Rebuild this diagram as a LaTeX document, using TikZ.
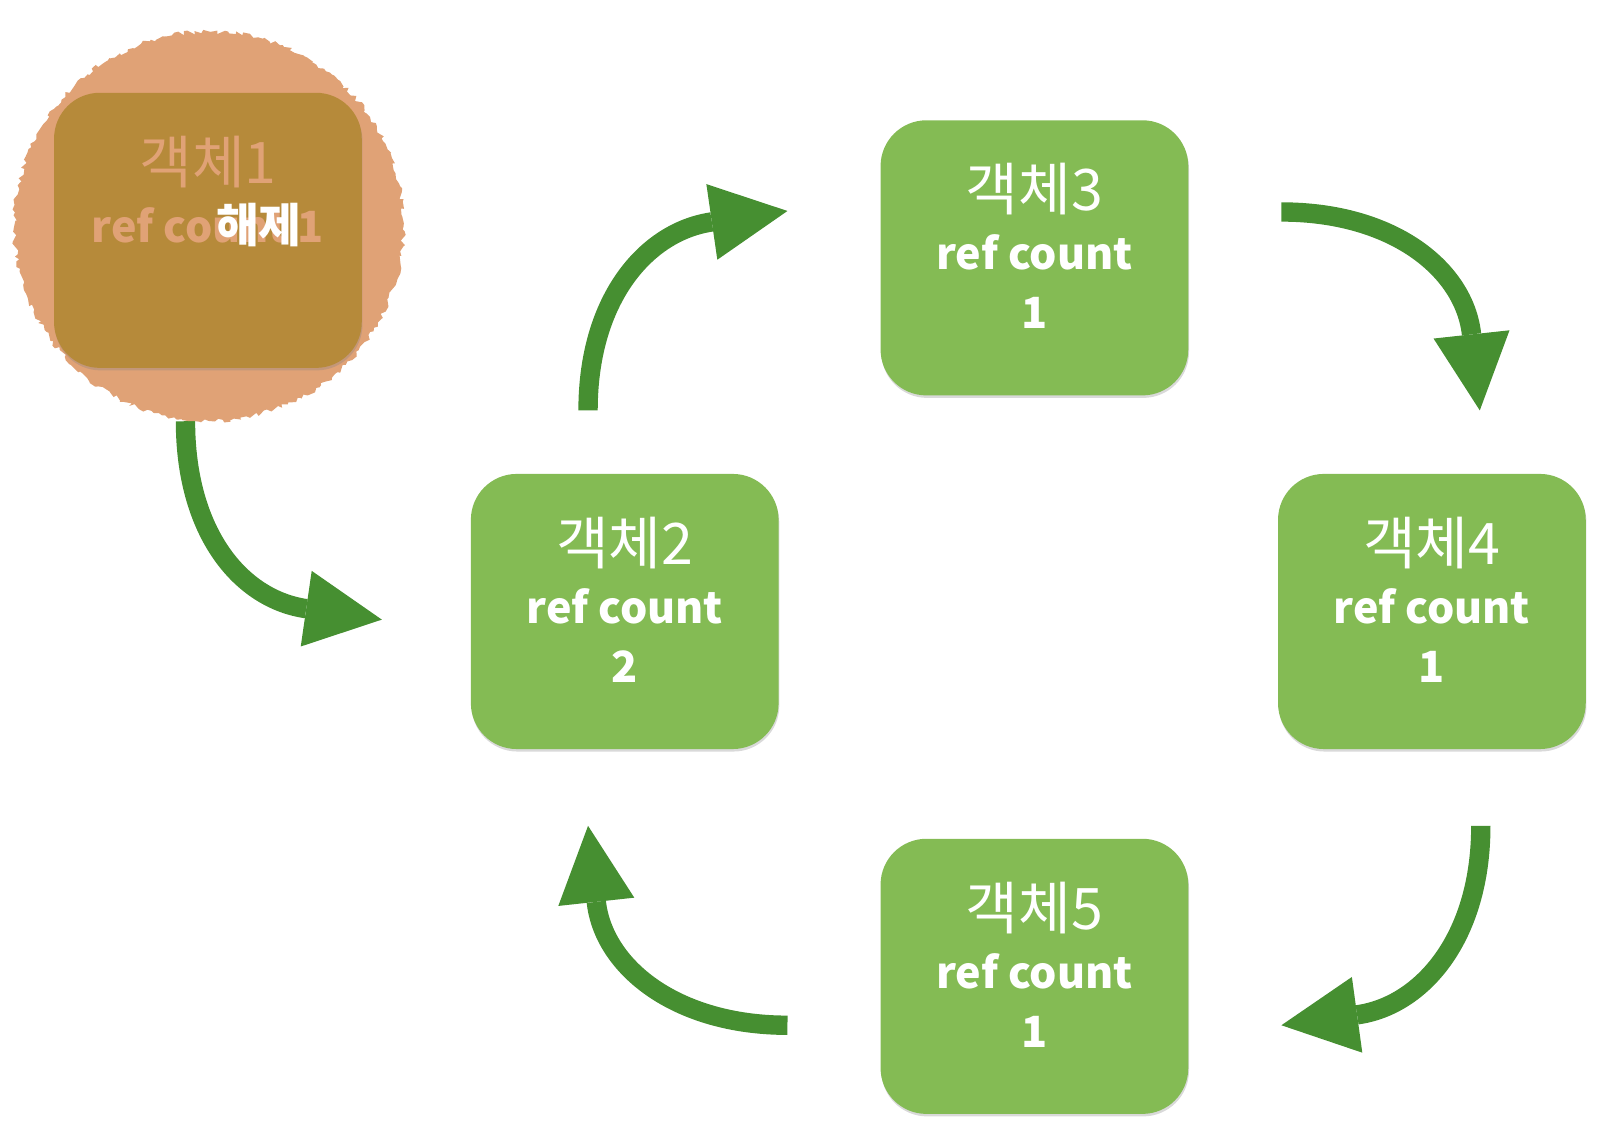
\documentclass[tikz,border=0pt]{standalone}
\usepackage{fontspec}
\setmainfont{Noto Sans CJK KR}
\usetikzlibrary{arrows.meta,calc,shadows,decorations.pathmorphing}
\definecolor{boxgreen}{HTML}{84BB54}
\definecolor{arrowgreen}{HTML}{468F31}
\definecolor{freedorange}{HTML}{E0A276}
\definecolor{freedbox}{HTML}{B68A3A}
\pgfdeclarelayer{back}
\pgfsetlayers{back,main}
\newcommand{\objname}[1]{{\fontsize{32}{34}\selectfont\mdseries #1}}

\begin{document}
\begin{tikzpicture}[x=0.02cm,y=-0.02cm,
        objbox/.style={fill=boxgreen, rounded corners=0.9cm, minimum width=6.04cm, minimum height=5.4cm,
            text=white, align=center, text depth=13pt, font=\fontsize{24}{33}\selectfont\bfseries,
            drop shadow={opacity=0.3, shadow xshift=0.4pt, shadow yshift=-1.4pt}},
        refarrow/.style={draw=arrowgreen, line width=0.38cm,
            -{Triangle[length=1.5cm, width=1.5cm, line width=0pt]}}]
                \useasboundingbox (0,0) rectangle (1568,1122);

                % freed object
                \draw[fill=freedorange, draw=none, decorate,
                    decoration={random steps, segment length=2pt, amplitude=1.4pt}] (205,222) circle (191);
                \node[objbox, fill=freedbox, text=freedorange] (obj1) at (204,226)
                    {\objname{객체1}\\ref count 1\\\strut};
                \node[text=white, font=\fontsize{26}{28}\selectfont\bfseries] (freed) at (254,221) {해제};

                % objects in the cycle
                \node[objbox] (obj2) at (613,600) {\objname{객체2}\\ref count\\2};
                \node[objbox] (obj3) at (1015,253) {\objname{객체3}\\ref count\\1};
                \node[objbox] (obj4) at (1405,600) {\objname{객체4}\\ref count\\1};
                \node[objbox] (obj5) at (1015,958) {\objname{객체5}\\ref count\\1};

                \coordinate (s1) at ($(obj1.south)+(-22,52)$);
                \coordinate (t1) at ($(obj2.west)+(-87,8)$);
                \coordinate (s2) at ($(obj2.north)+(-36,-62)$);
                \coordinate (t2) at ($(obj3.west)+(-91,-46)$);
                \coordinate (s3) at ($(obj3.east)+(91,-45)$);
                \coordinate (t3) at ($(obj4.north)+(47,-62)$);
                \coordinate (s4) at ($(obj4.south)+(48,75)$);
                \coordinate (t4) at ($(obj5.east)+(91,48)$);
                \coordinate (s5) at ($(obj5.west)+(-91,48)$);
                \coordinate (t5) at ($(obj2.south)+(-36,75)$);

                \begin{pgfonlayer}{back}
                \draw[refarrow] (s1) .. controls ($(s1)+(0,110)$) and ($(t1)+(-138,-20)$) .. (t1);
                \draw[refarrow] (s2) .. controls ($(s2)+(0,-110)$) and ($(t2)+(-138,20)$) .. (t2);
                \draw[refarrow] (s3) .. controls ($(s3)+(110,0)$) and ($(t3)+(-15,-138)$) .. (t3);
                \draw[refarrow] (s4) .. controls ($(s4)+(0,110)$) and ($(t4)+(138,-19)$) .. (t4);
                \draw[refarrow] (s5) .. controls ($(s5)+(-110,0)$) and ($(t5)+(15,138)$) .. (t5);
                \end{pgfonlayer}
            \end{tikzpicture}
\end{document}
